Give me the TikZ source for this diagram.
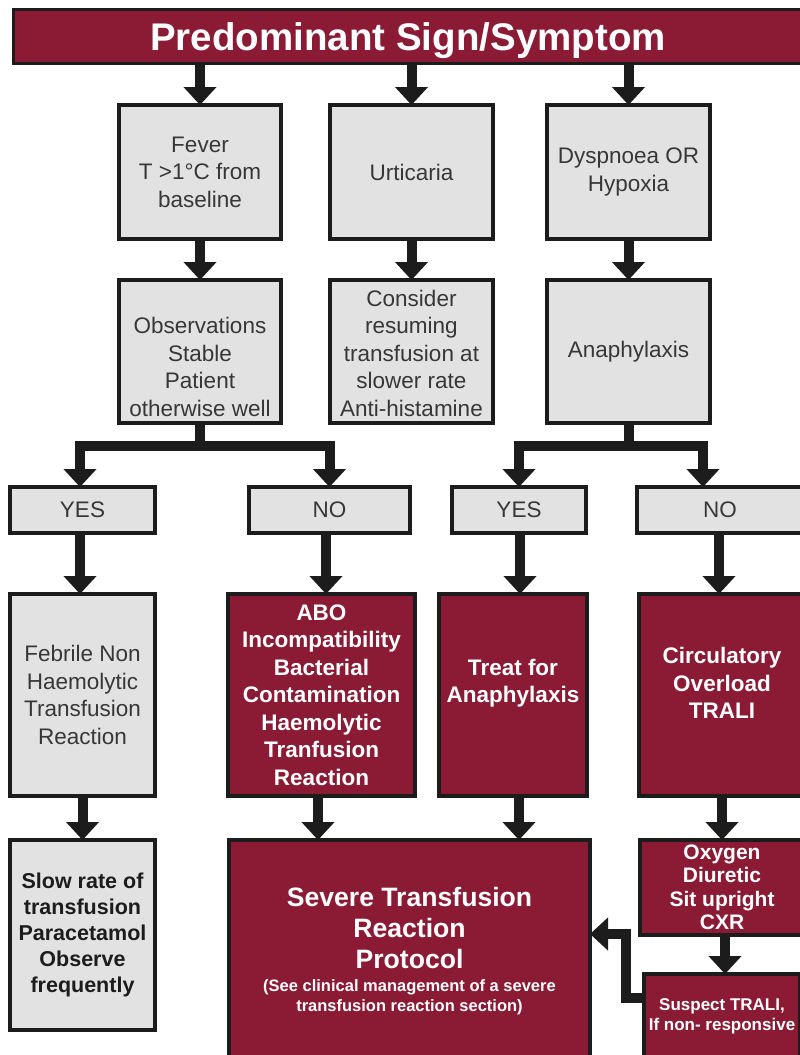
\documentclass[tikz,border=0pt]{standalone}
\usepackage{fontspec}
\setmainfont{Liberation Sans}
\usetikzlibrary{arrows.meta}
\definecolor{maroon}{RGB}{139,26,52}
\definecolor{lgray}{RGB}{226,226,226}
\definecolor{ink}{RGB}{28,28,28}
\definecolor{gtext}{RGB}{55,55,55}
\newcommand{\fsz}[2]{\fontsize{#1pt}{#2pt}\selectfont}
\begin{document}
\begin{tikzpicture}[x=1pt,y=-1pt,
  base/.style={draw=ink, line width=4pt, inner sep=0pt, outer sep=0pt, anchor=north west, align=center},
  gbox/.style={base, fill=lgray, text=gtext, font=\fsz{22.5}{27.5}},
  mbox/.style={base, fill=maroon, text=white, font=\bfseries\fsz{22.5}{27.5}},
  gtxt/.style={align=center, inner sep=0pt, text=gtext, font=\fsz{22.5}{27.5}},
  mtxt/.style={align=center, inner sep=0pt, text=white, font=\bfseries\fsz{22.5}{27.5}},
  arr/.style={draw=ink, line width=10pt, line join=miter, -{Triangle[width=32pt,length=18pt]}},
]
\useasboundingbox (0,0) rectangle (800,1055);
\fill[white] (0,0) rectangle (800,1055);
\clip (0,0) rectangle (800,1055);

% banner
\node[base, line width=3pt, fill=maroon, minimum width=795pt, minimum height=54pt] (banner) at (13.5,9.5) {};
\node[text=white, font=\bfseries\fsz{38.5}{44}, inner sep=0pt] (title) at (408,41) {Predominant Sign/Symptom};

% row 1
\node[gbox, minimum width=162pt, minimum height=134pt] (F1) at (119,105) {Fever\\T >1°C from\\baseline};
\node[gbox, minimum width=163pt, minimum height=134pt] (U1) at (330,105) {Urticaria};
\node[gbox, minimum width=163pt, minimum height=134pt] (D1) at (547,105) {Dyspnoea OR\\Hypoxia};

% row 2
\node[gbox, minimum width=162pt, minimum height=143pt] (O2) at (119,280) {};
\node[gtxt] (O2t) at (200,367) {Observations\\Stable\\Patient\\otherwise well};
\node[gbox, minimum width=163pt, minimum height=143pt] (C2) at (330,280) {};
\node[gtxt] (C2t) at (411.5,353) {Consider\\resuming\\transfusion at\\slower rate\\Anti-histamine};
\node[gbox, minimum width=163pt, minimum height=143pt] (A2) at (547,280) {Anaphylaxis};

% row 3
\node[gbox, minimum width=145pt, minimum height=46pt] (Y3a) at (10,487) {YES};
\node[gbox, minimum width=161pt, minimum height=46pt] (N3a) at (249,487) {NO};
\node[gbox, minimum width=134pt, minimum height=46pt] (Y3b) at (452,487) {YES};
\node[gbox, minimum width=166pt, minimum height=46pt] (N3b) at (637,487) {NO};

% row 4
\node[gbox, minimum width=145pt, minimum height=202pt] (R4a) at (10,594) {Febrile Non\\Haemolytic\\Transfusion\\Reaction};
\node[mbox, minimum width=187pt, minimum height=202pt] (R4b) at (228,594) {ABO\\Incompatibility\\Bacterial\\Contamination\\Haemolytic\\Tranfusion\\Reaction};
\node[mbox, minimum width=148pt, minimum height=202pt] (R4c) at (439,594) {};
\node[mtxt] (R4ct) at (513,683) {Treat for\\Anaphylaxis};
\node[mbox, minimum width=166pt, minimum height=202pt] (R4d) at (639,594) {};
\node[mtxt] (R4dt) at (722,683) {Circulatory\\Overload\\TRALI};

% row 5
\node[gbox, minimum width=145pt, minimum height=190pt, text=ink, font=\bfseries\fsz{21.5}{26}] (R5a) at (10,840) {Slow rate of\\transfusion\\Paracetamol\\Observe\\frequently};
\node[mbox, minimum width=361pt, minimum height=228pt] (R5b) at (229,840) {};
\node[mtxt, font=\bfseries\fsz{26.6}{31}] (R5bt) at (409.5,928) {Severe Transfusion\\Reaction\\Protocol};
\node[mtxt, font=\bfseries\fsz{16.5}{19.5}] (R5bs) at (409.5,997) {(See clinical management of a severe\\transfusion reaction section)};
\node[mbox, minimum width=164pt, minimum height=95pt, font=\bfseries\fsz{21}{23.5}] (R5c) at (640,840) {Oxygen\\Diuretic\\Sit upright\\CXR};
\node[mbox, minimum width=156pt, minimum height=94pt] (R5d) at (644,974) {};
\node[mtxt, font=\bfseries\fsz{17}{20}] (R5dt) at (722,1016) {Suspect TRALI,\\If non- responsive};

% connectors: banner to row 1
\draw[arr] (F1.north |- banner.south) -- (F1.north);
\draw[arr] (U1.north |- banner.south) -- (U1.north);
\draw[arr] (D1.north |- banner.south) -- (D1.north);
% row 1 to row 2
\draw[arr] (F1.south) -- (O2.north);
\draw[arr] (U1.south) -- (C2.north);
\draw[arr] (D1.south) -- (A2.north);
% brackets
\draw[arr] (O2.south) -- ++(0,23) -| ([xshift=-2.5pt]Y3a.north);
\draw[arr] (O2.south) -- ++(0,23) -| (N3a.north);
\draw[arr] (A2.south) -- ++(0,23) -| (Y3b.north);
\draw[arr] (A2.south) -- ++(0,23) -| ([xshift=-17pt]N3b.north);
% row 3 to row 4
\draw[arr] ([xshift=-2.5pt]Y3a.south) -- ([xshift=-2.5pt]R4a.north);
\draw[arr] ([xshift=-3.5pt]N3a.south) -- ([xshift=4.5pt]R4b.north);
\draw[arr] ([xshift=1pt]Y3b.south) -- ([xshift=7pt]R4c.north);
\draw[arr] ([xshift=-1pt]N3b.south) -- ([xshift=-3pt]R4d.north);
% row 4 to row 5
\draw[arr] (R4a.south) -- (R5a.north);
\draw[arr] ([xshift=-3.5pt]R4b.south) -- ([xshift=-91.5pt]R5b.north);
\draw[arr] ([xshift=6pt]R4c.south) -- ([xshift=109.5pt]R5b.north);
\draw[arr] (R4d.south) -- (R5c.north);
\draw[arr] ([xshift=3pt]R5c.south) -- ([xshift=3pt]R5d.north);
% elbow back to protocol
\draw[arr] ([yshift=23pt]R5d.west) -- ++(-18,0) |- ([yshift=20pt]R5b.east);
\end{tikzpicture}
\end{document}
